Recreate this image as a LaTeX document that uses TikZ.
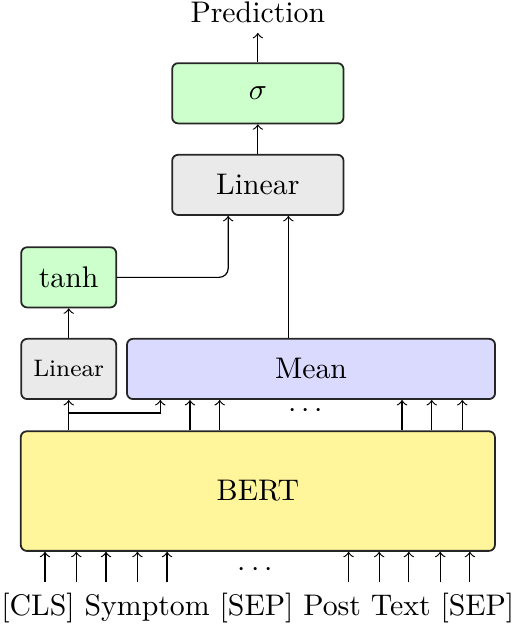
\documentclass[tikz,border=0pt]{standalone}
\usepackage{amsmath}
\usepackage{tikz}
\usetikzlibrary{arrows}

\definecolor{headgreen}{RGB}{204,255,204}
\definecolor{lingray}{RGB}{234,234,234}
\definecolor{meanblue}{RGB}{218,218,255}
\definecolor{bertyellow}{RGB}{255,246,155}

\tikzset{
  block/.style={draw=black!85, semithick, rounded corners=2pt, minimum height=0.71cm, inner sep=0pt},
}

\begin{document}
\begin{tikzpicture}
\useasboundingbox (0,0) rectangle (6.084,-7.357);

\node (pred) at (3.04,-0.14) {Prediction};
\node[block, fill=headgreen, minimum width=2.02cm] (sig) at (3.04,-1.10) {$\sigma$};
\node[block, fill=lingray, minimum width=2.02cm] (lin) at (3.04,-2.18) {Linear};
\node[block, fill=headgreen, minimum width=1.12cm] (tanh) at (0.81,-3.27) {tanh};
\node[block, fill=lingray, minimum width=1.12cm] (clslin) at (0.81,-4.35) {\footnotesize Linear};
\node[block, fill=meanblue, minimum width=4.34cm] (mean) at (3.667,-4.35) {Mean};
\node[block, fill=bertyellow, minimum width=5.59cm, minimum height=1.41cm] (bert) at (3.04,-5.79) {BERT};
\node (tokens) at (3.04,-7.165) {[CLS] Symptom [SEP] Post Text [SEP]};

\draw[->] (sig) -- (pred);
\draw[->] (lin) -- (sig);
\draw[->, rounded corners=3pt] (tanh.east) -| (lin.south -| 2.69,0);
\draw[->] (mean.north -| 3.40,0) -- (lin.south -| 3.40,0);
\draw[->] (clslin) -- (tanh);

% CLS token goes to both heads
\draw[->] (bert.north -| clslin) -- (clslin);
\draw[->] (0.81,-4.87) -| (mean.south -| 1.89,0);
\foreach \x in {2.24,2.59,4.74,5.09,5.45}
  \draw[->] (bert.north -| \x,0) -- (mean.south -| \x,0);
\node (meandots) at (3.63,-4.85) {$\cdots$};

% inputs
\foreach \x in {0.53,0.90,1.25,1.62,1.97,4.11,4.47,4.82,5.19,5.54}
  \draw[->] (tokens.north -| \x,0) -- (bert.south -| \x,0);
\node (tokdots) at (3.04,-6.72) {$\cdots$};

\end{tikzpicture}
\end{document}
